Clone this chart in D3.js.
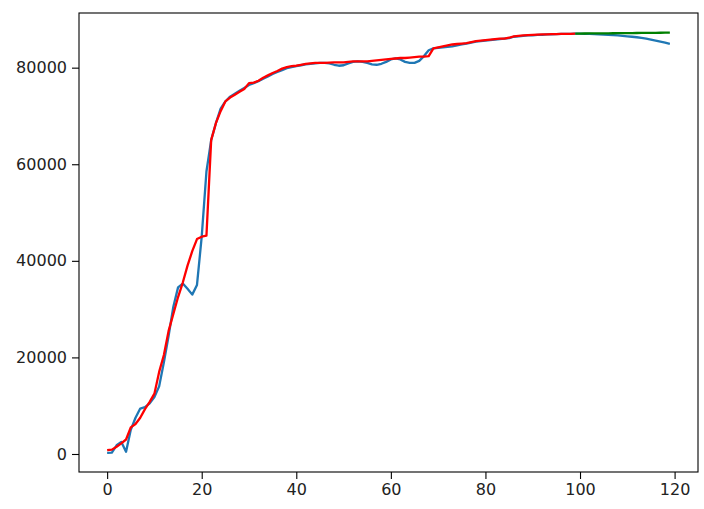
<!DOCTYPE html>
<html>
<head>
<meta charset="utf-8">
<script src="https://cdn.jsdelivr.net/npm/d3@7"></script>
<style>
  html, body { margin: 0; padding: 0; background: #fff; }
  svg { display: block; }
  .tick text { font-family: "DejaVu Sans", sans-serif; fill: #222; }
</style>
</head>
<body>
<div id="chart"></div>
<script>
// Actual series (blue), x = 0..119
const actual = [
  250, 300, 1800, 2500, 450, 5000, 7500, 9400, 9700, 10500,
  11800, 14000, 19000, 24500, 30500, 34500, 35300, 34200, 33000, 35000,
  45000, 58500, 65000, 68500, 71500, 73000, 74000, 74600, 75200, 75800,
  76400, 76800, 77200, 77700, 78200, 78700, 79100, 79500, 79900, 80100,
  80300, 80500, 80700, 80800, 80900, 81000, 81000, 80900, 80600, 80400,
  80500, 80900, 81200, 81300, 81200, 81000, 80700, 80600, 80800, 81200,
  81700, 81900, 81700, 81200, 81000, 81000, 81400, 82400, 83600, 84000,
  84100, 84200, 84300, 84400, 84600, 84800, 85000, 85200, 85400, 85500,
  85600, 85700, 85800, 85900, 86000, 86100, 86400, 86500, 86600, 86700,
  86700, 86800, 86800, 86900, 86900, 86950, 87000, 87000, 87000, 87050,
  87050, 87000, 87000, 86950, 86900, 86850, 86800, 86750, 86700, 86600,
  86500, 86400, 86300, 86150, 86000, 85800, 85600, 85400, 85200, 84950
];
// Fitted series (red), x = 0..99
const fitted = [
  800, 900, 1500, 2200, 3000, 5500, 6200, 7500, 9300, 10800,
  12500, 17000, 20500, 25500, 29000, 32500, 35500, 39000, 42000, 44500,
  45000, 45200, 65000, 68500, 71000, 73000, 73800, 74400, 75000, 75600,
  76800, 76900, 77300, 77900, 78400, 78900, 79300, 79800, 80100, 80300,
  80400, 80600, 80800, 80900, 81000, 81000, 81000, 81050, 81100, 81100,
  81100, 81200, 81300, 81300, 81300, 81300, 81400, 81500, 81600, 81700,
  81800, 81900, 82000, 82000, 82100, 82200, 82300, 82300, 82400, 84000,
  84200, 84400, 84600, 84800, 84900, 85000, 85100, 85300, 85500, 85600,
  85700, 85800, 85900, 86000, 86000, 86200, 86500, 86600, 86700, 86750,
  86800, 86850, 86900, 86900, 86950, 86950, 87000, 87000, 87000, 87050
];
// Forecast series (green), x = 99..119
const forecastStart = 99;
const forecast = [
  87050, 87060, 87070, 87080, 87090, 87100, 87110, 87120, 87130, 87140,
  87150, 87160, 87170, 87180, 87190, 87200, 87210, 87220, 87230, 87240, 87250
];
const xTicks = [0, 20, 40, 60, 80, 100, 120];
const yTicks = [0, 20000, 40000, 60000, 80000];

const W = 704, H = 509;
const mLeft = 79, mRight = 698, mTop = 13, mBottom = 472;

const svg = d3.select("#chart").append("svg").attr("width", W).attr("height", H);

const x = d3.scaleLinear().domain([-5.95, 124.95]).range([mLeft, mRight]);
const y = d3.scaleLinear().domain([-3730, 91320]).range([mBottom, mTop]);

const line = d3.line().x(d => x(d[0])).y(d => y(d[1]));

const series = [
  { data: actual.map((v, i) => [i, v]), color: "#1f77b4" },
  { data: fitted.map((v, i) => [i, v]), color: "#ff0000" },
  { data: forecast.map((v, i) => [forecastStart + i, v]), color: "#008000" }
];

svg.append("clipPath").attr("id", "c").append("rect")
  .attr("x", mLeft).attr("y", mTop).attr("width", mRight - mLeft).attr("height", mBottom - mTop);

const g = svg.append("g").attr("clip-path", "url(#c)");
series.forEach(s => {
  g.append("path").datum(s.data).attr("d", line)
    .attr("fill", "none").attr("stroke", s.color)
    .attr("stroke-width", 2.3).attr("stroke-linejoin", "round").attr("stroke-linecap", "butt");
});

const xAxis = svg.append("g").attr("transform", `translate(0,${mBottom})`)
  .call(d3.axisBottom(x).tickValues(xTicks).tickSize(7).tickPadding(5).tickFormat(d3.format("d")));
const yAxis = svg.append("g").attr("transform", `translate(${mLeft},0)`)
  .call(d3.axisLeft(y).tickValues(yTicks).tickSize(7).tickPadding(5).tickFormat(d3.format("d")));
[xAxis, yAxis].forEach(a => {
  a.select(".domain").remove();
  a.selectAll(".tick line").attr("stroke", "#000").attr("stroke-width", 1.1);
  a.selectAll(".tick text").style("font-size", "16px").attr("fill", "#222");
});

svg.append("rect").attr("x", mLeft).attr("y", mTop).attr("width", mRight - mLeft).attr("height", mBottom - mTop)
  .attr("fill", "none").attr("stroke", "#000").attr("stroke-width", 1.1);
</script>
</body>
</html>
